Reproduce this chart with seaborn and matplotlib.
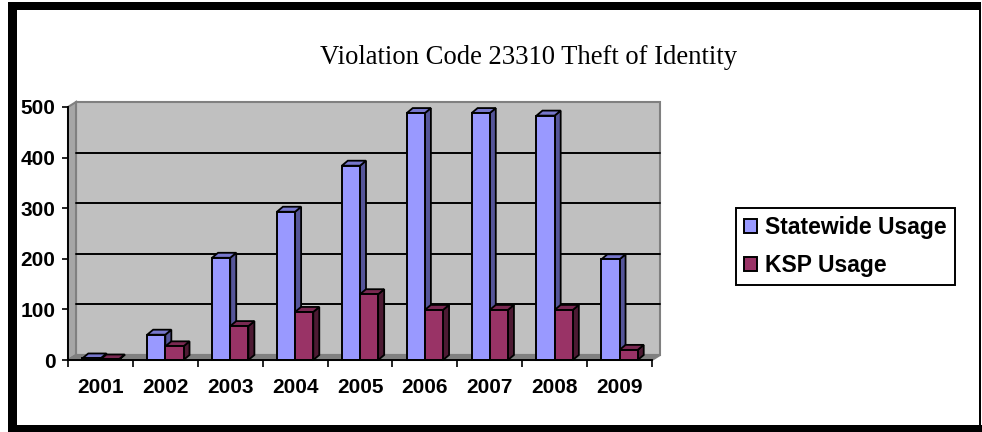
import matplotlib
matplotlib.use("Agg")
import matplotlib.pyplot as plt
import pandas as pd
import seaborn as sns
from matplotlib.patches import Polygon, Rectangle
from matplotlib.transforms import Affine2D, IdentityTransform

years = ["2001", "2002", "2003", "2004", "2005", "2006", "2007", "2008", "2009"]
statewide = [3, 50, 202, 293, 384, 488, 488, 483, 199]
ksp = [1, 27, 67, 95, 130, 99, 99, 99, 20]
y_ticks = [0, 100, 200, 300, 400, 500]

W, H = 982, 432
DX, DY = 8, 5      # depth of the back wall, pixels
BX, BY = 6, 5      # depth of the bars, pixels

df = pd.DataFrame({
    "year": years * 2,
    "usage": statewide + ksp,
    "series": ["Statewide Usage"] * len(years) + ["KSP Usage"] * len(years),
})

sns.set_style("white")
plt.rcParams["font.family"] = ["Liberation Sans", "DejaVu Sans"]
plt.rcParams["text.color"] = "black"

fig = plt.figure(figsize=(W / 100, H / 100), dpi=100)
ax = fig.add_axes([68 / W, 1 - 360 / H, (652 - 68) / W, (360 - 107) / H])
ax.patch.set_visible(False)

sns.barplot(
    data=df, x="year", y="usage", hue="series",
    hue_order=["Statewide Usage", "KSP Usage"],
    palette={"Statewide Usage": "#9999FF", "KSP Usage": "#993366"},
    width=0.56, edgecolor="black", linewidth=1.4, saturation=1, ax=ax,
)
ax.set_xlim(-0.5, len(years) - 0.5)
ax.set_ylim(0, 500)
ax.set_xlabel("")
ax.set_ylabel("")
fig.canvas.draw()

# chart walls, shifted back from the axes
pix = IdentityTransform()
x0, y0 = ax.transData.transform((-0.5, 0))
x1, y1 = ax.transData.transform((len(years) - 0.5, 500))
wall = dict(transform=pix, clip_on=False, edgecolor="#808080", linewidth=1.5)
ax.add_patch(Rectangle((x0 + DX, y0 + DY), x1 - x0, y1 - y0, facecolor="#C0C0C0", zorder=0.1, **wall))
ax.add_patch(Polygon([(x0, y0), (x0 + DX, y0 + DY), (x0 + DX, y1 + DY), (x0, y1)],
                     facecolor="#A6A6A6", zorder=0.2, **wall))
ax.add_patch(Polygon([(x0, y0), (x0 + DX, y0 + DY), (x1 + DX, y0 + DY), (x1, y0)],
                     facecolor="#808080", zorder=0.2, **wall))

back = ax.get_yaxis_transform() + Affine2D().translate(DX, DY)
for v in y_ticks[1:-1]:
    ax.plot([0, 1], [v, v], color="black", lw=1.4, transform=back, clip_on=False, zorder=0.5)

# depth faces of the bars, worked out from the bars seaborn drew
faces = {"#9999ff": ("#555599", "#7777CC"), "#993366": ("#4D1A33", "#7A2952")}
for i, bar in enumerate(ax.patches):
    if not isinstance(bar, Rectangle) or bar.get_width() == 0 or bar.get_transform() == pix:
        continue
    color = matplotlib.colors.to_hex(bar.get_facecolor())
    if color not in faces:
        continue
    side, top = faces[color]
    (ax0, ay0), (ax1, ay1) = ax.transData.transform(
        [(bar.get_x(), 0), (bar.get_x() + bar.get_width(), bar.get_height())])
    level = 2 if color == "#9999ff" else 4
    bar.set_zorder(level + 0.5)
    bar.set_clip_on(False)
    style = dict(transform=pix, clip_on=False, edgecolor="black", linewidth=1.3, zorder=level)
    ax.add_patch(Polygon([(ax1, ay0), (ax1 + BX, ay0 + BY), (ax1 + BX, ay1 + BY), (ax1, ay1)],
                         facecolor=side, **style))
    ax.add_patch(Polygon([(ax0, ay1), (ax0 + BX, ay1 + BY), (ax1 + BX, ay1 + BY), (ax1, ay1)],
                         facecolor=top, **style))

for name in ["top", "right"]:
    ax.spines[name].set_visible(False)
for name in ["left", "bottom"]:
    ax.spines[name].set_color("black")
    ax.spines[name].set_linewidth(1.4)
    ax.spines[name].set_zorder(6)

ax.set_yticks(y_ticks)
ax.set_xticks(range(len(years)))
ax.set_xticklabels(years)
ax.set_xticks([i - 0.5 for i in range(len(years) + 1)], minor=True)
ax.tick_params(axis="y", left=True, length=4, width=1.2, pad=5, color="black")
ax.tick_params(axis="x", which="major", bottom=False, length=0, pad=13)
ax.tick_params(axis="x", which="minor", bottom=True, length=5, width=1.2, color="black")
for label in ax.get_xticklabels() + ax.get_yticklabels():
    label.set_fontsize(15)
    label.set_fontweight("bold")
    label.set_color("black")

sns.move_legend(
    ax, "upper left", bbox_to_anchor=(736 / W, 1 - 208 / H), bbox_transform=fig.transFigure,
    title=None, frameon=True, fancybox=False, framealpha=1, edgecolor="black",
    prop={"weight": "bold", "size": 16.5}, handlelength=0.57, handleheight=0.57,
    handletextpad=0.35, labelspacing=0.67, borderpad=0.35, borderaxespad=0,
)
ax.get_legend().get_frame().set_linewidth(1.4)
ax.get_legend().set_zorder(10)
for text in ax.get_legend().get_texts():
    text.set_color("black")

fig.text(529 / W, 1 - 57 / H, "Violation Code 23310 Theft of Identity",
         family="Liberation Serif", fontsize=19.2, ha="center", va="center", color="black")

# thick page border
for (bx, by, bw, bh) in [(8, 2, 972, 8), (8, 2, 9, 430), (8, 425, 974, 7), (979, 2, 2, 430)]:
    fig.add_artist(Rectangle((bx, H - by - bh), bw, bh, transform=pix, facecolor="black", edgecolor="none"))

fig.savefig("out.png", dpi=100)
